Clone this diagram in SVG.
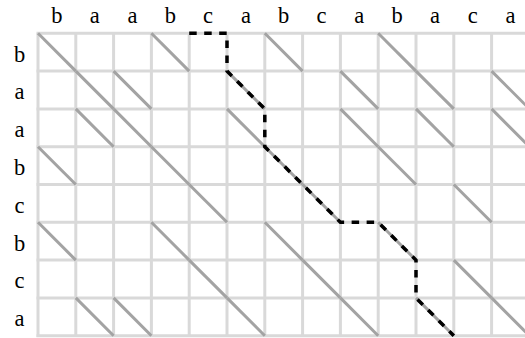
<svg xmlns="http://www.w3.org/2000/svg" width="525" height="338" viewBox="0 0 525 338">
<style>
.lbl{font-family:"Liberation Serif","DejaVu Serif",serif;font-size:22.5px;fill:#000;text-anchor:middle}
.grid line{stroke:#d9d9d9;stroke-width:3}
.diag line{stroke:#a3a3a3;stroke-width:3}
.path{fill:none;stroke:#000;stroke-width:3.5;stroke-dasharray:7.5 7.5}
</style>
<rect width="525" height="338" fill="#fff"/>
<g id="grid" class="grid">
<line x1="38" y1="33.3" x2="38" y2="337"/>
<line x1="75.8" y1="33.3" x2="75.8" y2="337"/>
<line x1="113.6" y1="33.3" x2="113.6" y2="337"/>
<line x1="151.4" y1="33.3" x2="151.4" y2="337"/>
<line x1="189.2" y1="33.3" x2="189.2" y2="337"/>
<line x1="227" y1="33.3" x2="227" y2="337"/>
<line x1="264.8" y1="33.3" x2="264.8" y2="337"/>
<line x1="302.6" y1="33.3" x2="302.6" y2="337"/>
<line x1="340.4" y1="33.3" x2="340.4" y2="337"/>
<line x1="378.2" y1="33.3" x2="378.2" y2="337"/>
<line x1="416" y1="33.3" x2="416" y2="337"/>
<line x1="453.8" y1="33.3" x2="453.8" y2="337"/>
<line x1="491.6" y1="33.3" x2="491.6" y2="337"/>
<line x1="36.5" y1="33.3" x2="530" y2="33.3"/>
<line x1="36.5" y1="71.1" x2="530" y2="71.1"/>
<line x1="36.5" y1="108.9" x2="530" y2="108.9"/>
<line x1="36.5" y1="146.7" x2="530" y2="146.7"/>
<line x1="36.5" y1="184.5" x2="530" y2="184.5"/>
<line x1="36.5" y1="222.3" x2="530" y2="222.3"/>
<line x1="36.5" y1="260.1" x2="530" y2="260.1"/>
<line x1="36.5" y1="297.9" x2="530" y2="297.9"/>
<line x1="36.5" y1="335.7" x2="530" y2="335.7"/>
</g>
<g id="matches" class="diag">
<!-- row 0 b -->
<line x1="38" y1="33.3" x2="75.8" y2="71.1"/>
<line x1="151.4" y1="33.3" x2="189.2" y2="71.1"/>
<line x1="264.8" y1="33.3" x2="302.6" y2="71.1"/>
<line x1="378.2" y1="33.3" x2="416" y2="71.1"/>
<!-- row 1 a -->
<line x1="75.8" y1="71.1" x2="113.6" y2="108.9"/>
<line x1="113.6" y1="71.1" x2="151.4" y2="108.9"/>
<line x1="227" y1="71.1" x2="264.8" y2="108.9"/>
<line x1="340.4" y1="71.1" x2="378.2" y2="108.9"/>
<line x1="416" y1="71.1" x2="453.8" y2="108.9"/>
<line x1="491.6" y1="71.1" x2="529.4" y2="108.9"/>
<!-- row 2 a -->
<line x1="75.8" y1="108.9" x2="113.6" y2="146.7"/>
<line x1="113.6" y1="108.9" x2="151.4" y2="146.7"/>
<line x1="227" y1="108.9" x2="264.8" y2="146.7"/>
<line x1="340.4" y1="108.9" x2="378.2" y2="146.7"/>
<line x1="416" y1="108.9" x2="453.8" y2="146.7"/>
<line x1="491.6" y1="108.9" x2="529.4" y2="146.7"/>
<!-- row 3 b -->
<line x1="38" y1="146.7" x2="75.8" y2="184.5"/>
<line x1="151.4" y1="146.7" x2="189.2" y2="184.5"/>
<line x1="264.8" y1="146.7" x2="302.6" y2="184.5"/>
<line x1="378.2" y1="146.7" x2="416" y2="184.5"/>
<!-- row 4 c -->
<line x1="189.2" y1="184.5" x2="227" y2="222.3"/>
<line x1="302.6" y1="184.5" x2="340.4" y2="222.3"/>
<line x1="453.8" y1="184.5" x2="491.6" y2="222.3"/>
<!-- row 5 b -->
<line x1="38" y1="222.3" x2="75.8" y2="260.1"/>
<line x1="151.4" y1="222.3" x2="189.2" y2="260.1"/>
<line x1="264.8" y1="222.3" x2="302.6" y2="260.1"/>
<line x1="378.2" y1="222.3" x2="416" y2="260.1"/>
<!-- row 6 c -->
<line x1="189.2" y1="260.1" x2="227" y2="297.9"/>
<line x1="302.6" y1="260.1" x2="340.4" y2="297.9"/>
<line x1="453.8" y1="260.1" x2="491.6" y2="297.9"/>
<!-- row 7 a -->
<line x1="75.8" y1="297.9" x2="113.6" y2="335.7"/>
<line x1="113.6" y1="297.9" x2="151.4" y2="335.7"/>
<line x1="227" y1="297.9" x2="264.8" y2="335.7"/>
<line x1="340.4" y1="297.9" x2="378.2" y2="335.7"/>
<line x1="416" y1="297.9" x2="453.8" y2="335.7"/>
<line x1="491.6" y1="297.9" x2="529.4" y2="335.7"/>
</g>
<g id="connectors">
<path class="path" d="M189.2,33.3 L227,33.3 L227,71.1 L264.8,108.9 L264.8,146.7 L340.4,222.3 L378.2,222.3 L416,260.1 L416,297.9 L453.8,335.7"/>
</g>
<g id="col-labels">
<text class="lbl" x="56.9" y="22.5">b</text>
<text class="lbl" x="94.7" y="22.5">a</text>
<text class="lbl" x="132.5" y="22.5">a</text>
<text class="lbl" x="170.3" y="22.5">b</text>
<text class="lbl" x="208.1" y="22.5">c</text>
<text class="lbl" x="245.9" y="22.5">a</text>
<text class="lbl" x="283.7" y="22.5">b</text>
<text class="lbl" x="321.5" y="22.5">c</text>
<text class="lbl" x="359.3" y="22.5">a</text>
<text class="lbl" x="397.1" y="22.5">b</text>
<text class="lbl" x="434.9" y="22.5">a</text>
<text class="lbl" x="472.7" y="22.5">c</text>
<text class="lbl" x="510.5" y="22.5">a</text>
</g>
<g id="row-labels">
<text class="lbl" x="19.5" y="61.5">b</text>
<text class="lbl" x="19.5" y="99.3">a</text>
<text class="lbl" x="19.5" y="137.1">a</text>
<text class="lbl" x="19.5" y="174.9">b</text>
<text class="lbl" x="19.5" y="212.7">c</text>
<text class="lbl" x="19.5" y="250.5">b</text>
<text class="lbl" x="19.5" y="288.3">c</text>
<text class="lbl" x="19.5" y="326.1">a</text>
</g>
</svg>
